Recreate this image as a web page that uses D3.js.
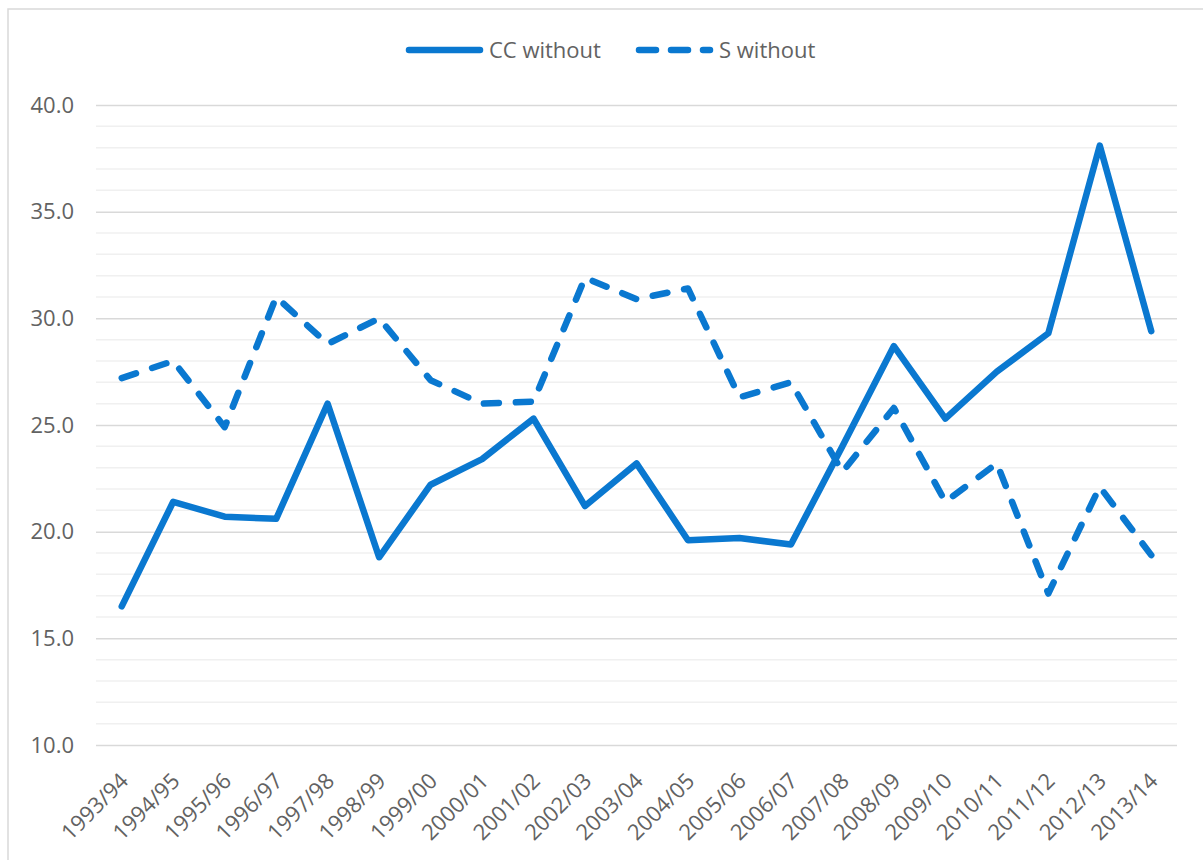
<!DOCTYPE html>
<html>
<head>
<meta charset="utf-8">
<script src="https://cdn.jsdelivr.net/npm/d3@7"></script>
<style>
  body { margin: 0; background: #fff; }
  svg { display: block; font-family: "Open Sans", "Noto Sans", sans-serif; }
</style>
</head>
<body>
<svg id="chart" width="1203" height="860"></svg>
<script>
// data
var seasons = ["1993/94", "1994/95", "1995/96", "1996/97", "1997/98", "1998/99", "1999/00",
  "2000/01", "2001/02", "2002/03", "2003/04", "2004/05", "2005/06", "2006/07", "2007/08",
  "2008/09", "2009/10", "2010/11", "2011/12", "2012/13", "2013/14"];
var ccWithout = [16.5, 21.4, 20.7, 20.6, 26.0, 18.8, 22.2, 23.4, 25.3, 21.2, 23.2,
  19.6, 19.7, 19.4, 24.0, 28.7, 25.3, 27.5, 29.3, 38.1, 29.4];
var sWithout = [27.2, 28.0, 24.9, 31.0, 28.8, 30.0, 27.1, 26.0, 26.1, 31.9, 30.9,
  31.4, 26.3, 27.0, 22.8, 25.8, 21.4, 23.2, 17.1, 22.1, 18.9];
var yTicks = [10, 15, 20, 25, 30, 35, 40];
var seriesNames = ["CC without", "S without"];

var svg = d3.select("#chart");
var margin = { top: 105, right: 26, bottom: 115, left: 96 },
    width = 1203 - margin.left - margin.right,
    height = 860 - margin.top - margin.bottom;
var blue = "#0a78d0";
var textColour = "#626262";
var fontSize = "22px";

// outer frame (cropped on right/bottom like the screenshot)
svg.append("rect")
    .attr("x", 8).attr("y", 9)
    .attr("width", 1200).attr("height", 860)
    .attr("fill", "none")
    .attr("stroke", "#d9d9d9")
    .attr("stroke-width", 1.5);

var g = svg.append("g").attr("transform", "translate(" + margin.left + "," + margin.top + ")");

var xScale = d3.scalePoint()
    .domain(seasons)
    .range([0, width])
    .padding(0.5);

var yScale = d3.scaleLinear()
    .domain([10, 40])
    .range([640, 0]);

// minor gridlines every 1, major every 5
g.append("g")
    .selectAll("line")
    .data(d3.range(10, 41, 1).filter(function(d) { return d % 5 !== 0; }))
    .enter().append("line")
    .attr("x1", 0).attr("x2", width)
    .attr("y1", function(d) { return yScale(d); })
    .attr("y2", function(d) { return yScale(d); })
    .attr("stroke", "#f0f0f0")
    .attr("stroke-width", 1.5);

g.append("g")
    .attr("class", "axis axis--y")
    .call(d3.axisLeft(yScale)
        .tickValues(yTicks)
        .tickSize(-width)
        .tickPadding(22)
        .tickFormat(d3.format(".1f")))
    .call(function(a) {
        a.select(".domain").remove();
        a.selectAll(".tick line").attr("stroke", "#d9d9d9").attr("stroke-width", 1.5);
        a.selectAll(".tick text")
            .attr("fill", textColour)
            .style("font-size", fontSize)
            .style("font-family", "'Open Sans', sans-serif");
    });

// x axis labels, rotated
g.append("g")
    .attr("class", "axis axis--x")
    .attr("transform", "translate(0," + yScale(10) + ")")
    .call(d3.axisBottom(xScale).tickSize(0).tickPadding(0))
    .call(function(a) {
        a.select(".domain").remove();
        a.selectAll(".tick text")
            .attr("fill", textColour)
            .style("font-size", fontSize)
            .style("font-family", "'Open Sans', sans-serif")
            .attr("text-anchor", "end")
            .attr("dy", "0.35em")
            .attr("transform", "translate(2,32) rotate(-45)");
    });

var line = d3.line()
    .x(function(d, i) { return xScale(seasons[i]); })
    .y(function(d) { return yScale(d); });

g.append("path")
    .datum(sWithout)
    .attr("fill", "none")
    .attr("stroke", blue)
    .attr("stroke-width", 6.5)
    .attr("stroke-linecap", "round")
    .attr("stroke-linejoin", "round")
    .attr("stroke-dasharray", "15,17")
    .attr("d", line);

g.append("path")
    .datum(ccWithout)
    .attr("fill", "none")
    .attr("stroke", blue)
    .attr("stroke-width", 6.5)
    .attr("stroke-linecap", "round")
    .attr("stroke-linejoin", "round")
    .attr("d", line);

// legend
var legend = svg.append("g").attr("class", "legend");
var legendItems = [
    { name: seriesNames[0], x: 406, dash: null },
    { name: seriesNames[1], x: 636, dash: "17,15" }
];
legendItems.forEach(function(it) {
    legend.append("line")
        .attr("x1", it.x + 3).attr("x2", it.x + 74)
        .attr("y1", 50).attr("y2", 50)
        .attr("stroke", blue)
        .attr("stroke-width", 6.5)
        .attr("stroke-linecap", "round")
        .attr("stroke-dasharray", it.dash);
    legend.append("text")
        .attr("x", it.x + 83).attr("y", 50)
        .attr("dy", "0.35em")
        .attr("fill", textColour)
        .style("font-size", fontSize)
        .text(it.name);
});
</script>
</body>
</html>
